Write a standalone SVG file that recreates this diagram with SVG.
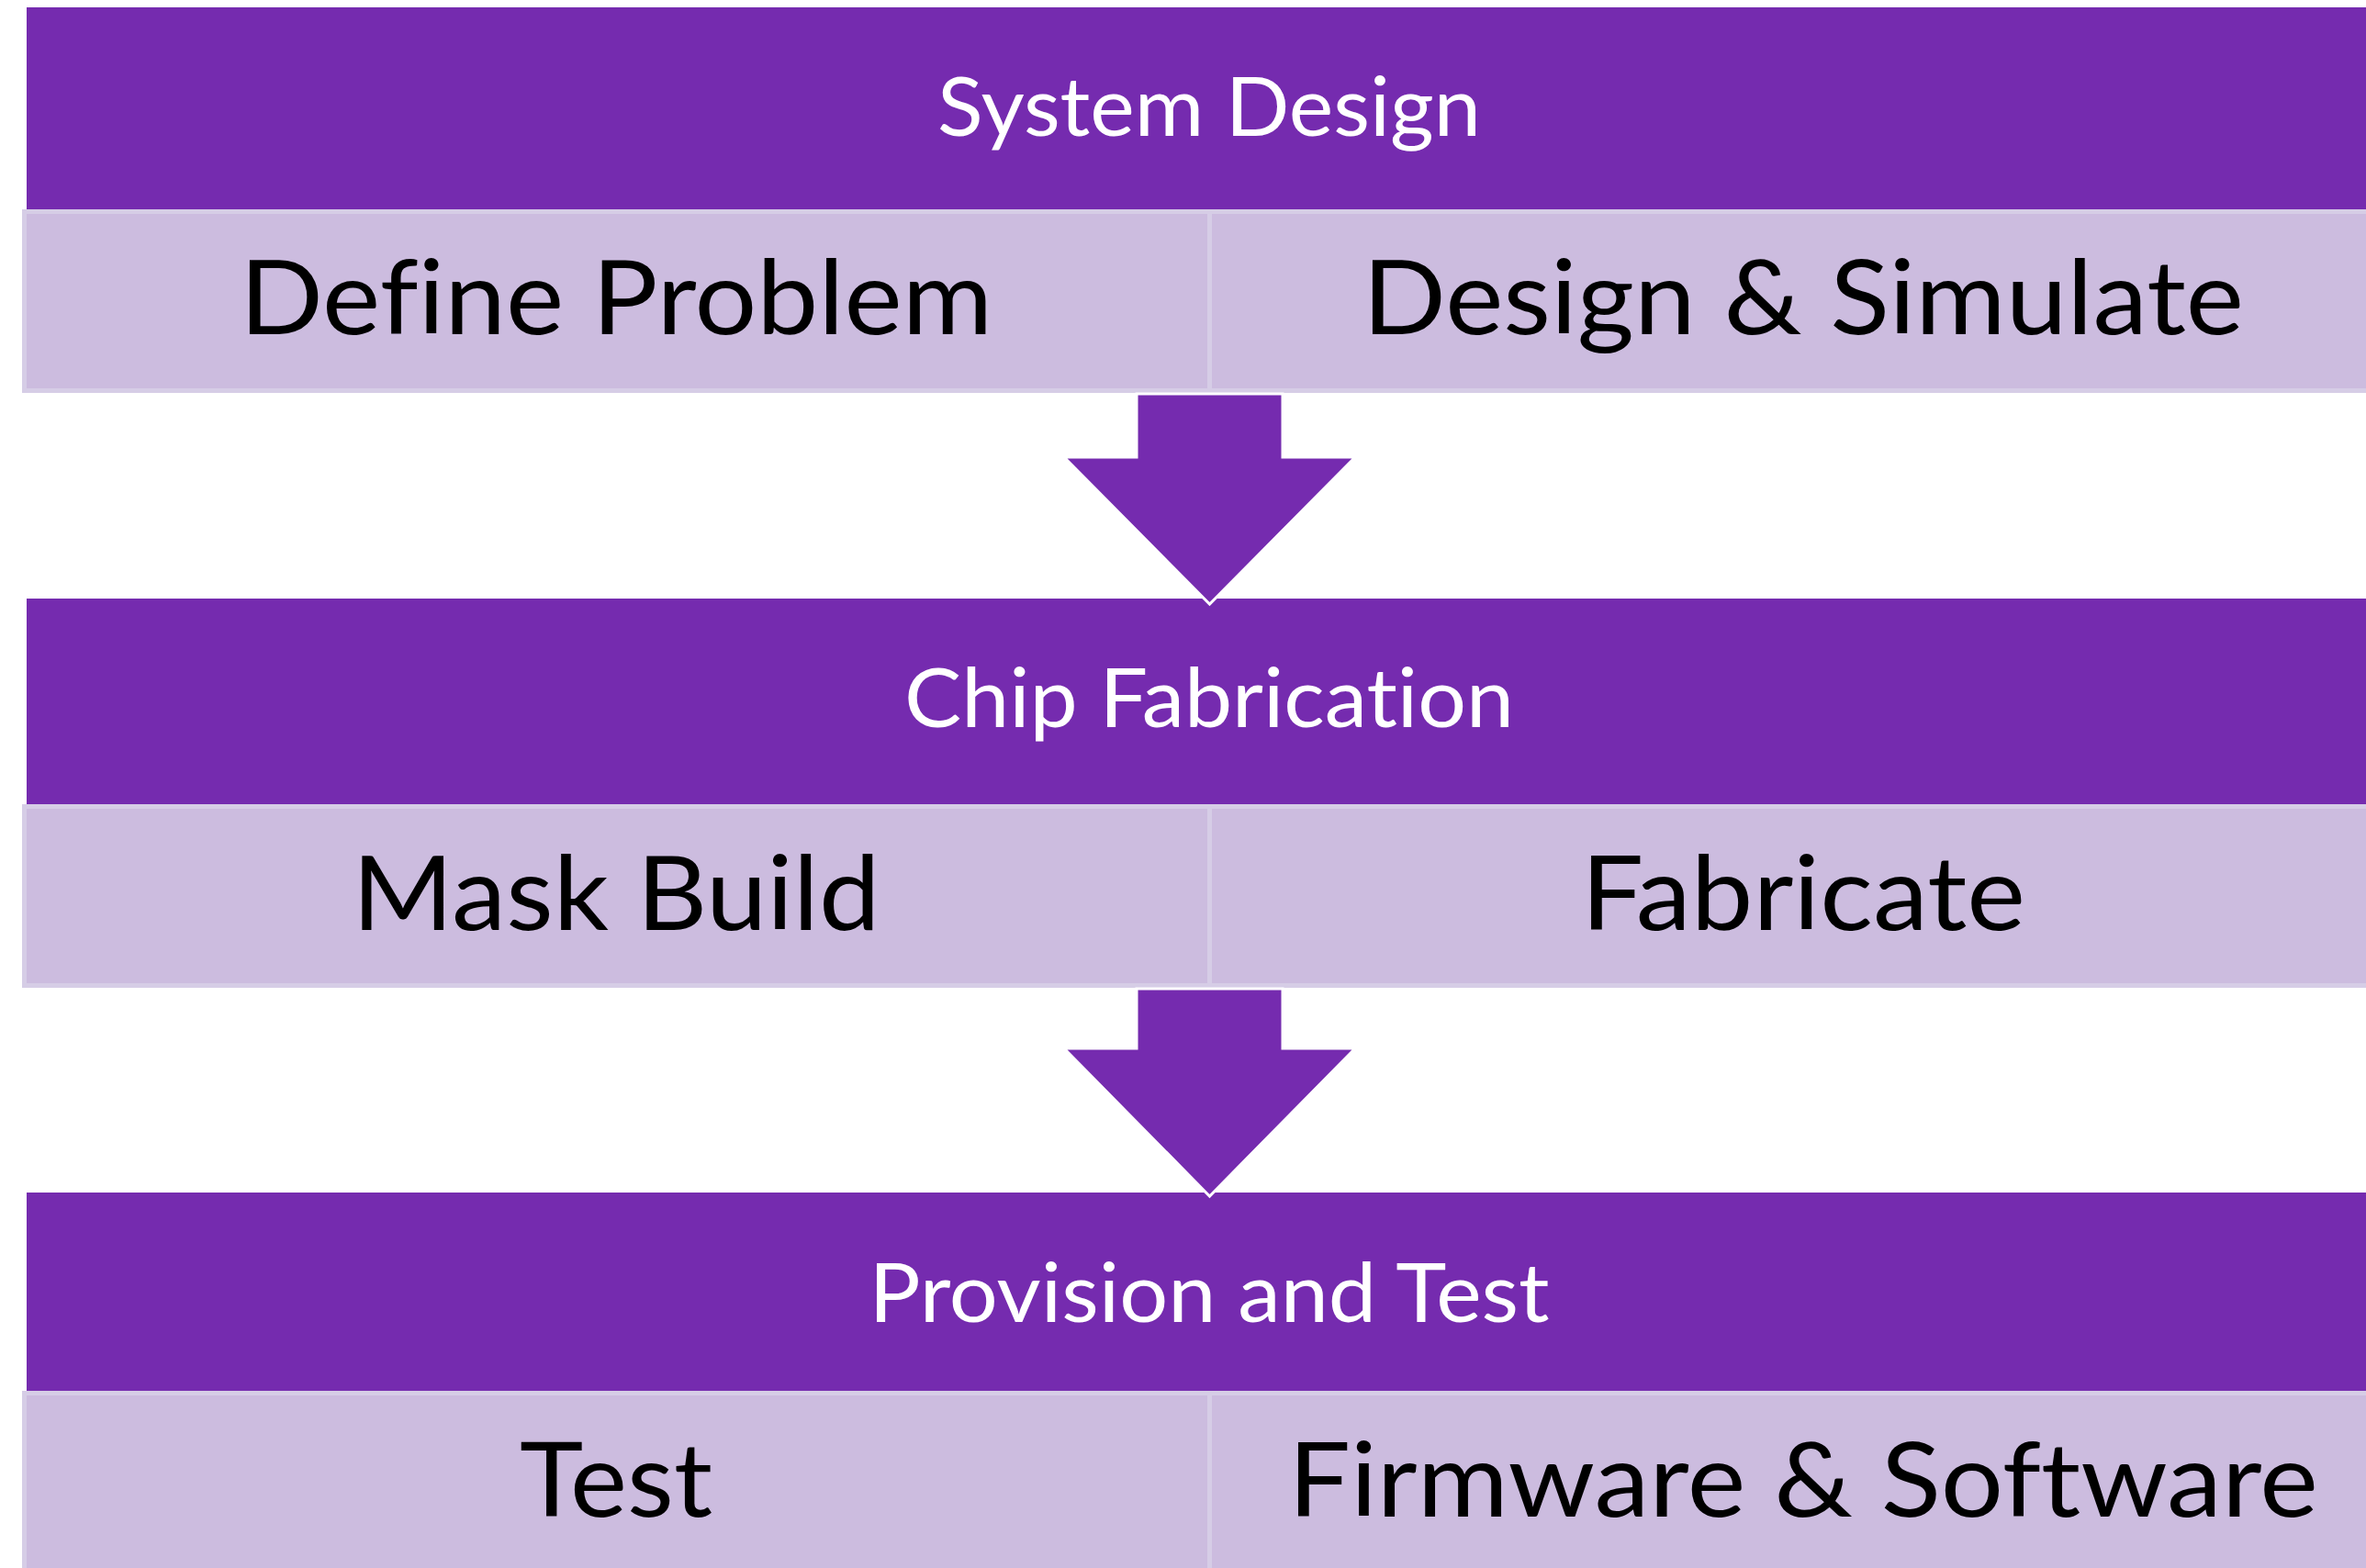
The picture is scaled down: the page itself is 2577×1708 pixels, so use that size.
<svg xmlns="http://www.w3.org/2000/svg" width="2577" height="1708" viewBox="0 0 2577 1708">
  <style>
    .banner { fill: #752BAF; }
    .cell { fill: #CCBCDF; stroke: #D6CDE6; stroke-width: 5; }
    .btxt { font-family: "Lato", "Open Sans", sans-serif; font-size: 89px; fill: #FFFFFF; text-anchor: middle; font-variant-ligatures: none; font-feature-settings: "liga" 0, "dlig" 0, "clig" 0; }
    .ctxt { font-family: "Lato", "Open Sans", sans-serif; font-size: 113px; fill: #000000; text-anchor: middle; font-variant-ligatures: none; font-feature-settings: "liga" 0, "dlig" 0, "clig" 0; }
    .arrow { fill: #752BAF; stroke: #FFFFFF; stroke-width: 3; stroke-linejoin: miter; }
  </style>
  <rect x="0" y="0" width="2577" height="1708" fill="#FFFFFF"/>

  <g id="system-design">
    <rect class="banner" x="29" y="8" width="2560" height="220"/>
    <text class="btxt" x="1317" y="148" textLength="592" lengthAdjust="spacingAndGlyphs">System Design</text>
  </g>
  <g id="define-problem">
    <rect class="cell" x="26.5" y="230.5" width="1291" height="195"/>
    <text class="ctxt" x="671" y="364" textLength="820" lengthAdjust="spacingAndGlyphs">Define Problem</text>
  </g>
  <g id="design-simulate">
    <rect class="cell" x="1317.5" y="230.5" width="1300" height="195"/>
    <text class="ctxt" x="1964" y="364" textLength="960" lengthAdjust="spacingAndGlyphs">Design &amp; Simulate</text>
  </g>

  <g id="chip-fabrication">
    <rect class="banner" x="29" y="652" width="2560" height="224"/>
    <text class="btxt" x="1317" y="792" textLength="664" lengthAdjust="spacingAndGlyphs">Chip Fabrication</text>
  </g>
  <g id="mask-build">
    <rect class="cell" x="26.5" y="878.5" width="1291" height="195"/>
    <text class="ctxt" x="671" y="1013" textLength="575" lengthAdjust="spacingAndGlyphs">Mask Build</text>
  </g>
  <g id="fabricate">
    <rect class="cell" x="1317.5" y="878.5" width="1300" height="195"/>
    <text class="ctxt" x="1964" y="1013" textLength="484" lengthAdjust="spacingAndGlyphs">Fabricate</text>
  </g>

  <g id="provision-and-test">
    <rect class="banner" x="29" y="1299" width="2560" height="216"/>
    <text class="btxt" x="1317" y="1440" textLength="741" lengthAdjust="spacingAndGlyphs">Provision and Test</text>
  </g>
  <g id="test">
    <rect class="cell" x="26.5" y="1517.5" width="1291" height="220"/>
    <text class="ctxt" x="671" y="1652" textLength="210" lengthAdjust="spacingAndGlyphs">Test</text>
  </g>
  <g id="firmware-software">
    <rect class="cell" x="1317.5" y="1517.5" width="1300" height="220"/>
    <text class="ctxt" x="1964" y="1652" textLength="1122" lengthAdjust="spacingAndGlyphs">Firmware &amp; Software</text>
  </g>

  <g id="connectors">
    <polygon class="arrow" points="1238,429 1397,429 1397,498 1476,498 1317.5,658 1159,498 1238,498"/>
    <polygon class="arrow" points="1238,1077 1397,1077 1397,1142 1476,1142 1317.5,1303 1159,1142 1238,1142"/>
  </g>
</svg>
